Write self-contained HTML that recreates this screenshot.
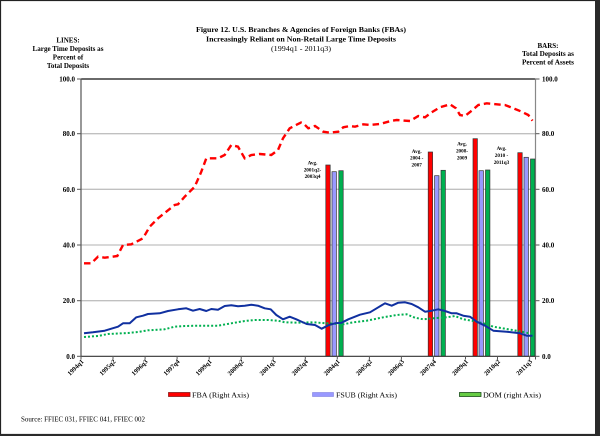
<!DOCTYPE html>
<html>
<head>
<meta charset="utf-8">
<style>
html,body{margin:0;padding:0;background:#fff;}
body{width:600px;height:436px;overflow:hidden;position:relative;}
svg{position:absolute;left:0;top:0;}
text{font-family:"Liberation Serif",serif;fill:#000;}
.b{font-weight:bold;}
</style>
</head>
<body>
<svg width="600" height="436" viewBox="0 0 600 436" xmlns="http://www.w3.org/2000/svg">
  <!-- frame -->
  <rect x="0" y="0" width="600" height="436" fill="#fff"/>
  <rect x="0.5" y="0.5" width="596" height="434" fill="none" stroke="#222" stroke-width="1.2"/>
  <rect x="595" y="0" width="5" height="436" fill="#2a2a2a"/>
  <rect x="0" y="434" width="600" height="2" fill="#2a2a2a"/>

  <!-- titles -->
  <text class="b" x="301" y="32" font-size="7.6" text-anchor="middle" textLength="210" lengthAdjust="spacingAndGlyphs">Figure 12. U.S. Branches &amp; Agencies of Foreign Banks (FBAs)</text>
  <text class="b" x="301" y="41.5" font-size="7.6" text-anchor="middle" textLength="190" lengthAdjust="spacingAndGlyphs">Increasingly Reliant on Non-Retail Large Time Deposits</text>
  <text x="301" y="51" font-size="7.6" text-anchor="middle" textLength="60" lengthAdjust="spacingAndGlyphs">(1994q1 - 2011q3)</text>

  <text class="b" x="68" y="42.5" font-size="7" text-anchor="middle">LINES:</text>
  <text class="b" x="68" y="51" font-size="7" text-anchor="middle" textLength="71" lengthAdjust="spacingAndGlyphs">Large Time Deposits as</text>
  <text class="b" x="68" y="59.5" font-size="7" text-anchor="middle">Percent of</text>
  <text class="b" x="68" y="68" font-size="7" text-anchor="middle">Total Deposits</text>

  <text class="b" x="548" y="48" font-size="7" text-anchor="middle">BARS:</text>
  <text class="b" x="548" y="56" font-size="7" text-anchor="middle" textLength="52" lengthAdjust="spacingAndGlyphs">Total Deposits as</text>
  <text class="b" x="548" y="64.5" font-size="7" text-anchor="middle" textLength="52" lengthAdjust="spacingAndGlyphs">Percent of Assets</text>

  <!-- gridlines -->
  <g stroke="#c0c0c0" stroke-width="1.3">
    <line x1="81" y1="133.7" x2="535.5" y2="133.7"/>
    <line x1="81" y1="189.3" x2="535.5" y2="189.3"/>
    <line x1="81" y1="245" x2="535.5" y2="245"/>
    <line x1="81" y1="300.7" x2="535.5" y2="300.7"/>
  </g>
  <!-- plot border -->
  <line x1="81" y1="79" x2="535.5" y2="79" stroke="#111" stroke-width="1.3"/>
  <line x1="81" y1="78.5" x2="81" y2="356.5" stroke="#555" stroke-width="1.2"/>
  <line x1="535.5" y1="78.5" x2="535.5" y2="356.5" stroke="#888" stroke-width="1.2"/>

  <!-- y ticks -->
  <g stroke="#555" stroke-width="1">
    <line x1="77" y1="79" x2="81" y2="79"/>
    <line x1="77" y1="133.7" x2="81" y2="133.7"/>
    <line x1="77" y1="189.3" x2="81" y2="189.3"/>
    <line x1="77" y1="245" x2="81" y2="245"/>
    <line x1="77" y1="300.7" x2="81" y2="300.7"/>
    <line x1="77" y1="356.3" x2="81" y2="356.3"/>
    <line x1="535.5" y1="79" x2="539.5" y2="79"/>
    <line x1="535.5" y1="133.7" x2="539.5" y2="133.7"/>
    <line x1="535.5" y1="189.3" x2="539.5" y2="189.3"/>
    <line x1="535.5" y1="245" x2="539.5" y2="245"/>
    <line x1="535.5" y1="300.7" x2="539.5" y2="300.7"/>
    <line x1="535.5" y1="356.3" x2="539.5" y2="356.3"/>
  </g>
  <g class="b" font-size="7" font-weight="bold" text-anchor="end">
    <text x="75" y="81.5">100.0</text>
    <text x="75" y="136.2">80.0</text>
    <text x="75" y="191.8">60.0</text>
    <text x="75" y="247.5">40.0</text>
    <text x="75" y="303.2">20.0</text>
    <text x="75" y="358.8">0.0</text>
  </g>
  <g class="b" font-size="7" font-weight="bold">
    <text x="542" y="81.5">100.0</text>
    <text x="542" y="136.2">80.0</text>
    <text x="542" y="191.8">60.0</text>
    <text x="542" y="247.5">40.0</text>
    <text x="542" y="303.2">20.0</text>
    <text x="542" y="358.8">0.0</text>
  </g>

  <!-- bars -->
  <g stroke="#333" stroke-width="0.7">
    <rect x="325.8" y="165" width="4.4" height="191.3" fill="#ff0000"/>
    <rect x="332" y="171.7" width="4.4" height="184.6" fill="#9999ff"/>
    <rect x="338.8" y="170.7" width="4.4" height="185.6" fill="#00b050"/>

    <rect x="428.2" y="152" width="4.4" height="204.3" fill="#ff0000"/>
    <rect x="434.6" y="175.7" width="4.4" height="180.6" fill="#9999ff"/>
    <rect x="441" y="170.3" width="4.4" height="186" fill="#00b050"/>

    <rect x="473" y="138.7" width="4.4" height="217.6" fill="#ff0000"/>
    <rect x="479" y="170.7" width="4.4" height="185.6" fill="#9999ff"/>
    <rect x="485.5" y="170" width="4.4" height="186.3" fill="#00b050"/>

    <rect x="517.8" y="152.7" width="4.4" height="203.6" fill="#ff0000"/>
    <rect x="524" y="157.3" width="4.4" height="199" fill="#9999ff"/>
    <rect x="530.5" y="159" width="4.4" height="197.3" fill="#00b050"/>
  </g>

  <!-- bar labels -->
  <g class="b" font-size="5.2" font-weight="bold" text-anchor="middle">
    <text x="312.5" y="164.5">Avg.</text>
    <text x="312.5" y="171.5">2001q2-</text>
    <text x="312.5" y="178">2003q4</text>

    <text x="416.7" y="153">Avg.</text>
    <text x="416.7" y="159.5">2004 -</text>
    <text x="416.7" y="166.5">2007</text>

    <text x="462" y="145.5">Avg.</text>
    <text x="462" y="152.5">2008-</text>
    <text x="462" y="159.5">2009</text>

    <text x="501.5" y="150">Avg.</text>
    <text x="501.5" y="157">2010 -</text>
    <text x="501.5" y="164">2011q3</text>
  </g>

  <!-- green dotted line -->
  <polyline fill="none" stroke="#00b050" stroke-width="2" stroke-dasharray="2,2"
    points="84,337 98,336 108,334 128,333 138,332 148,330.3 164.7,329.3 174.7,326.7 184.7,326 198,325.7 218,325.7 231.3,323.3 244.7,321 254.7,320 268,320 278,320.7 284.7,322.3 298,322.7 313.3,322.3 326.7,323.3 343.3,324.3 353.3,322.3 366.7,320.7 383.3,317.3 396.7,315 406.7,314.3 415,317.7 423.3,319.3 433.3,318.3 446.7,317.3 455,316 463.3,319.3 473.3,321 483.3,323.3 493.3,326.7 506.7,329 520,331.3 532.5,334"/>

  <!-- blue solid line -->
  <polyline fill="none" stroke="#1030a0" stroke-width="2" stroke-linejoin="round"
    points="84,333.3 93,332.3 104.7,330.7 111.3,328.7 118,326.7 123,323.3 129.7,323.3 136.3,317.3 143,315.7 148,314 159.7,313.3 168,311 178,309.3 186.3,308.3 193,310.7 199.7,309 206.3,311 211.3,309 218,309.7 224.7,306 231.3,305.3 238,306.3 244.7,305.7 251.3,304.7 258,305.7 264.7,308.3 270.7,309.3 276.3,315 283,319.3 289.7,316.7 296.3,319.3 300,321 306.7,324 315,325 321.7,328.7 328.3,325.3 335,323.3 341.7,322.7 348.3,319.3 360,314.7 370,312.3 378.3,307.3 385,303.3 391.7,305.7 398.3,302.7 405,302.3 411.7,304 418.3,307.3 425,311.7 431.7,310.7 438.3,309.3 445,311 451.7,313.3 456.7,313.3 463.3,315.7 470,316.7 476.7,321.7 485,325.7 493.3,330.7 506.7,331.7 520,333.3 526.7,335.7 532.5,335.7"/>

  <!-- red dashed line -->
  <polyline fill="none" stroke="#ff0000" stroke-width="2.4" stroke-dasharray="6.5,4"
    points="84,263.3 91.3,263.3 98,256.7 104.7,257.7 117.3,256 123,245 131.3,244.3 143,238.3 149.7,226.7 158,218.3 166.3,211.7 174.7,205 178,204.3 184.7,196.7 194.7,186.7 201.3,171.7 206.3,158.3 218,158.3 224.7,155 231.3,145 238,146.7 244.7,158.3 251.3,155 259.7,154 271.3,155 278,150 283,138.3 289.7,128.3 301,122.5 303.3,123.3 308.3,128.3 315,126 323.3,131.7 330,132.7 338.3,131.7 343.3,127.3 350,126 355,126.7 363.3,124.3 370,125 380,124 391.7,120.7 396.7,120 410,121 418.3,116 425,117.3 431.7,112.3 440,107.3 450,104.3 456,108.3 460,115 465,116 471.7,110.7 478.3,105 486.7,103.3 496.7,104.3 505,105 513.3,108.3 521.7,111.7 528.3,115 532.5,120.7"/>

  <!-- x axis -->
  <line x1="81" y1="356.3" x2="535.5" y2="356.3" stroke="#333" stroke-width="1.2"/>
  <g stroke="#555" stroke-width="1">
    <line x1="81" y1="356" x2="81" y2="359.5"/>
    <line x1="113" y1="356" x2="113" y2="359.5"/>
    <line x1="145.1" y1="356" x2="145.1" y2="359.5"/>
    <line x1="177.1" y1="356" x2="177.1" y2="359.5"/>
    <line x1="209.2" y1="356" x2="209.2" y2="359.5"/>
    <line x1="241.2" y1="356" x2="241.2" y2="359.5"/>
    <line x1="273.2" y1="356" x2="273.2" y2="359.5"/>
    <line x1="305.3" y1="356" x2="305.3" y2="359.5"/>
    <line x1="337.3" y1="356" x2="337.3" y2="359.5"/>
    <line x1="369.4" y1="356" x2="369.4" y2="359.5"/>
    <line x1="401.4" y1="356" x2="401.4" y2="359.5"/>
    <line x1="433.4" y1="356" x2="433.4" y2="359.5"/>
    <line x1="465.5" y1="356" x2="465.5" y2="359.5"/>
    <line x1="497.5" y1="356" x2="497.5" y2="359.5"/>
    <line x1="529.6" y1="356" x2="529.6" y2="359.5"/>
    <line x1="535.5" y1="356" x2="535.5" y2="359.5"/>
  </g>
  <g class="b" font-size="6.5" font-weight="bold" text-anchor="end">
    <text transform="translate(84,362) rotate(-45)">1994q1</text>
    <text transform="translate(116,362) rotate(-45)">1995q2</text>
    <text transform="translate(148.1,362) rotate(-45)">1996q3</text>
    <text transform="translate(180.1,362) rotate(-45)">1997q4</text>
    <text transform="translate(212.2,362) rotate(-45)">1999q1</text>
    <text transform="translate(244.2,362) rotate(-45)">2000q2</text>
    <text transform="translate(276.2,362) rotate(-45)">2001q3</text>
    <text transform="translate(308.3,362) rotate(-45)">2002q4</text>
    <text transform="translate(340.3,362) rotate(-45)">2004q1</text>
    <text transform="translate(372.4,362) rotate(-45)">2005q2</text>
    <text transform="translate(404.4,362) rotate(-45)">2006q3</text>
    <text transform="translate(436.4,362) rotate(-45)">2007q4</text>
    <text transform="translate(468.5,362) rotate(-45)">2009q1</text>
    <text transform="translate(500.5,362) rotate(-45)">2010q2</text>
    <text transform="translate(532.6,362) rotate(-45)">2011q3</text>
  </g>

  <!-- legend -->
  <rect x="168.5" y="392.5" width="21.5" height="4" fill="#ff0000" stroke="#8b1a1a" stroke-width="0.8"/>
  <text x="192" y="397.5" font-size="7.6" textLength="57" lengthAdjust="spacingAndGlyphs">FBA (Right Axis)</text>
  <rect x="312.5" y="392.5" width="21" height="4" fill="#9999ff" stroke="#8080e0" stroke-width="0.6"/>
  <text x="336" y="397.5" font-size="7.6" textLength="61" lengthAdjust="spacingAndGlyphs">FSUB (Right Axis)</text>
  <rect x="459.5" y="392.5" width="21.5" height="4" fill="#66cc44" stroke="#1a4d1a" stroke-width="0.8"/>
  <text x="483" y="397.5" font-size="7.6" textLength="58" lengthAdjust="spacingAndGlyphs">DOM (right Axis)</text>

  <!-- source -->
  <text x="21" y="421.5" font-size="7" textLength="124" lengthAdjust="spacingAndGlyphs">Source: FFIEC 031, FFIEC 041, FFIEC 002</text>
</svg>
</body>
</html>
